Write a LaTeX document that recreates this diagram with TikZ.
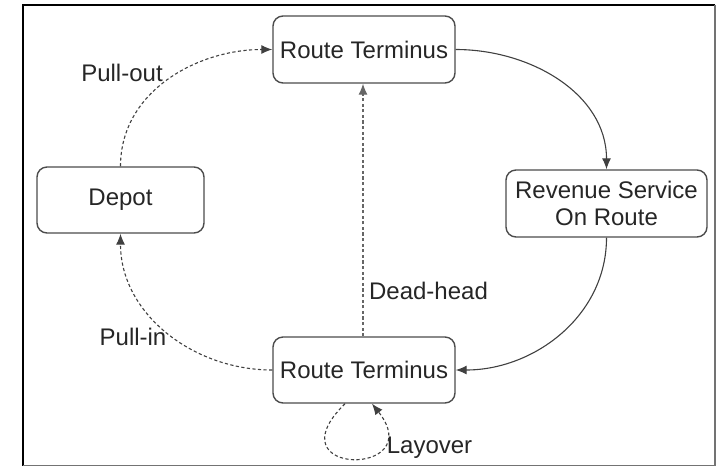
\documentclass[tikz,border=0pt]{standalone}
\usepackage{fontspec}
\setmainfont{Liberation Sans}
\usepackage{tikz}
\usetikzlibrary{arrows.meta}

\begin{document}
\begin{tikzpicture}[x=0.5pt,y=-0.5pt,
        stop/.style={draw=black!70,line width=0.7pt,rounded corners=5pt,
            align=center,text=black!85,font=\fontsize{12}{13.5}\selectfont,
            minimum height=33.5pt,inner sep=0pt},
        tag/.style={text=black!85,font=\fontsize{12}{13.5}\selectfont,
            inner sep=0pt,anchor=base},
        service/.style={draw=black!75,line width=0.55pt,
            -{Latex[length=5.5pt,width=4.5pt]}},
        nonservice/.style={service,dash pattern=on 1.6pt off 1.2pt}]

        \useasboundingbox (0,0) rectangle (716,467);

        % The frame
        \draw[line width=1pt] (23,465.5) -- (23,4.5) -- (715,4.5);
        \draw[black!55,line width=0.6pt] (715,4.5) -- (715,465.5) -- (23,465.5);

        % The boxes
        \node[stop,minimum width=91pt] (topterm) at (364,49.5) {Route Terminus};
        \node[stop,minimum width=83.5pt,minimum height=33pt] (depot) at (120.5,200) {Depot};
        \node[stop,minimum width=100.5pt] (revenue) at (606.5,203.5) {Revenue Service\\On Route};
        \node[stop,minimum width=91pt,minimum height=33pt] (botterm) at (364,370) {Route Terminus};

        % The trips
        \draw[nonservice] (depot.north) to[out=90,in=180] (topterm.west);
        \draw[service] (topterm.east) to[out=0,in=90] (revenue.north);
        \draw[service] (revenue.south) to[out=-90,in=0] (botterm.east);
        \draw[nonservice] (botterm.west) to[out=180,in=-90] (depot.south);
        \draw[nonservice,draw=black!60] ([xshift=-0.5pt]botterm.north) -- ([xshift=-0.5pt]topterm.south);

        % The layover loop
        \draw[nonservice] ([xshift=-9.5pt]botterm.south)
            .. controls (270,477) and (430,477) .. ([xshift=4pt]botterm.south);

        % The words on the trips
        \node[tag] (pullout) at (122,81) {Pull-out};
        \node[tag] (deadhead) at (428.5,299) {Dead-head};
        \node[tag] (pullin) at (133,345) {Pull-in};
        \node[tag] (layover) at (429.5,453) {Layover};

\end{tikzpicture}
\end{document}
